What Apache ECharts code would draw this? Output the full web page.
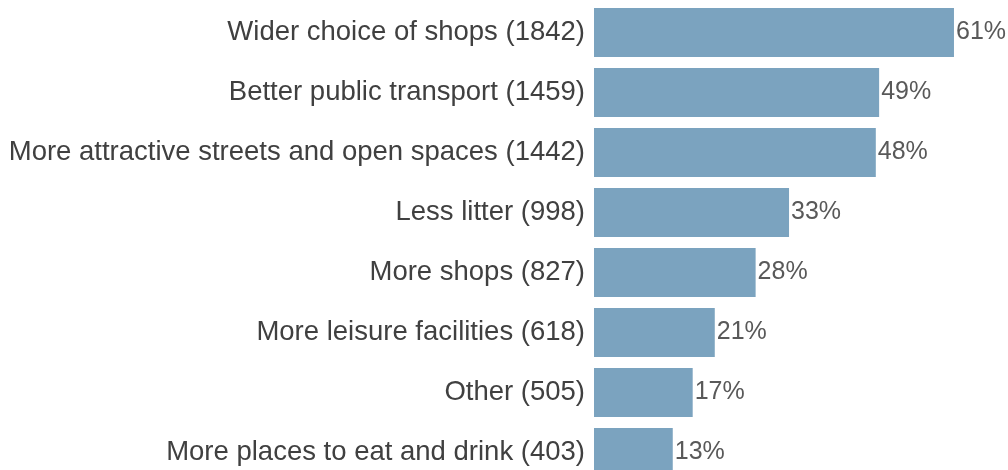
<!DOCTYPE html>
<html><head><meta charset="utf-8">
<script src="https://cdn.jsdelivr.net/npm/echarts@6/dist/echarts.min.js"></script>
<style>html,body{margin:0;padding:0;background:#fff;overflow:hidden;width:1008px;height:470px}#c{width:1008px;height:490px}</style>
</head><body><div id="c"></div>
<script>
var categories = ["Wider choice of shops (1842)","Better public transport (1459)","More attractive streets and open spaces (1442)","Less litter (998)","More shops (827)","More leisure facilities (618)","Other (505)","More places to eat and drink (403)"];
var counts = [1842,1459,1442,998,827,618,505,403];
var pctLabels = ["61%","49%","48%","33%","28%","21%","17%","13%"];

var chart = echarts.init(document.getElementById('c'));
chart.setOption({
  animation:false,
  grid:{left:594,right:3.6,top:2.5,height:480,containLabel:false},
  xAxis:{type:'value',min:0,max:2100,show:false},
  yAxis:{type:'category',data:categories,inverse:true,
    axisLine:{show:false},axisTick:{show:false},splitLine:{show:false},
    axisLabel:{margin:9,color:'#404040',fontSize:27.5,padding:[0,0,11,0],fontFamily:'Liberation Sans, Arial, sans-serif'}},
  series:[{type:'bar',data:counts,barWidth:49,
    itemStyle:{color:'#7BA3BF'},
    label:{show:true,position:'right',distance:2,color:'#595959',fontSize:25,
      fontFamily:'Liberation Sans, Arial, sans-serif',
      formatter:function(p){return pctLabels[p.dataIndex];}}}]
});
</script></body></html>
